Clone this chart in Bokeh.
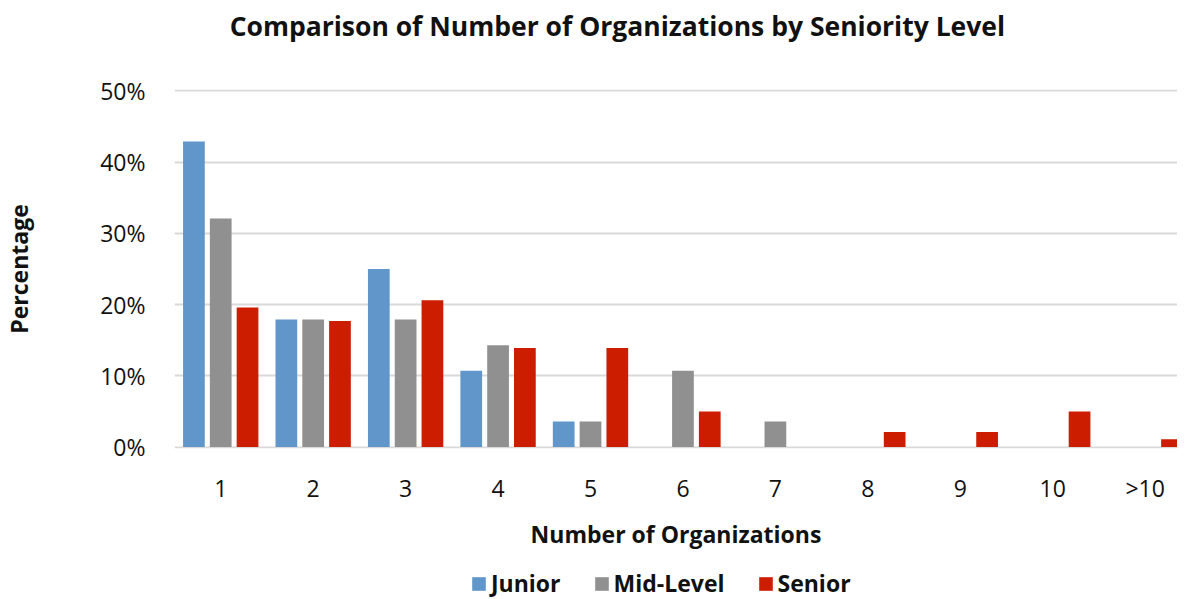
from bokeh.plotting import figure
from bokeh.layouts import column
from bokeh.models import (Range1d, FixedTicker, Legend, LegendItem, Label,
                          ColumnDataSource, PrintfTickFormatter)
from bokeh.transform import dodge
from bokeh.embed import file_html
from bokeh.resources import INLINE

# ---- data (percent) ----
categories = ["1", "2", "3", "4", "5", "6", "7", "8", "9", "10", ">10"]
junior = [42.9, 17.9, 25.0, 10.7, 3.6, 0, 0, 0, 0, 0, 0]
mid_level = [32.1, 17.9, 17.9, 14.3, 3.6, 10.7, 3.6, 0, 0, 0, 0]
senior = [19.6, 17.7, 20.6, 13.9, 13.9, 5.0, 0, 2.1, 2.1, 5.0, 1.1]
y_ticks = [0, 10, 20, 30, 40, 50]
series_names = ["Junior", "Mid-Level", "Senior"]
title_text = "Comparison of Number of Organizations by Seniority Level"

FONT = "Open Sans"
TXT = "#111111"
colors = ["#6096C9", "#909090", "#CD1D00"]

W = 1177
HT, HM, HL = 50, 510, 39
LEFT, TOP, BOTTOM = 168, 39, 112
x_end = -0.5 + (W - LEFT) / 93.0

# ---------- title strip ----------
pt = figure(width=W, height=HT, output_backend="svg", toolbar_location=None,
            title=None,
            x_range=Range1d(LEFT, W), y_range=Range1d(0, HT),
            x_axis_location=None, y_axis_location=None,
            min_border_left=0, min_border_right=0, min_border_top=0,
            min_border_bottom=0)
pt.outline_line_color = None
pt.grid.visible = False
pt.add_layout(Label(x=613.5, y=25, text=title_text, text_font=FONT,
                    text_font_size="26.5px", text_font_style="bold",
                    text_color=TXT, text_align="center",
                    text_baseline="alphabetic"))

# ---------- main chart ----------
src = ColumnDataSource(dict(x=list(range(len(categories))),
                            junior=junior, mid=mid_level, senior=senior))

p = figure(width=W, height=HM, output_backend="svg", toolbar_location=None,
           title=None,
           x_range=Range1d(-0.5, x_end), y_range=Range1d(-0.2, 50.2),
           min_border_left=LEFT, min_border_top=TOP,
           min_border_bottom=BOTTOM, min_border_right=0)
p.outline_line_color = None

bw = 0.235
fields = ["junior", "mid", "senior"]
offsets = [-0.29, 0.0, 0.29]
for f, off, c in zip(fields, offsets, colors):
    p.vbar(x=dodge("x", off), top=f, width=bw, source=src,
           fill_color=c, line_color=None)

xa = p.xaxis[0]
xa.ticker = FixedTicker(ticks=list(range(len(categories))))
xa.major_label_overrides = {i: c for i, c in enumerate(categories)}
xa.axis_line_color = None
xa.major_tick_line_color = None
xa.minor_tick_line_color = None
xa.major_label_text_font = FONT
xa.major_label_text_font_size = "23px"
xa.major_label_text_color = TXT
xa.major_label_standoff = 17
xa.axis_label = "Number of Organizations"
xa.axis_label_text_font = FONT
xa.axis_label_text_font_size = "23px"
xa.axis_label_text_font_style = "bold"
xa.axis_label_text_color = TXT
xa.axis_label_standoff = 11

ya = p.yaxis[0]
ya.ticker = FixedTicker(ticks=y_ticks)
ya.formatter = PrintfTickFormatter(format="%d%%")
ya.axis_line_color = None
ya.major_tick_line_color = None
ya.minor_tick_line_color = None
ya.major_label_text_font = FONT
ya.major_label_text_font_size = "23px"
ya.major_label_text_color = TXT
ya.major_label_standoff = 23
ya.axis_label = "Percentage"
ya.axis_label_text_font = FONT
ya.axis_label_text_font_size = "23px"
ya.axis_label_text_font_style = "bold"
ya.axis_label_text_color = TXT
ya.axis_label_standoff = 62

p.xgrid.grid_line_color = None
p.ygrid.ticker = FixedTicker(ticks=y_ticks)
p.ygrid.grid_line_color = "#D9D9D9"
p.ygrid.grid_line_width = 2

# ---------- legend strip ----------
# legend renderers use the same data, but sit outside this strip's visible range
pl = figure(width=W, height=HL, output_backend="svg", toolbar_location=None,
            title=None,
            x_range=Range1d(0, 1), y_range=Range1d(1000, 1001),
            x_axis_location=None, y_axis_location=None,
            min_border_left=0, min_border_right=0, min_border_top=0,
            min_border_bottom=0)
pl.outline_line_color = None
pl.grid.visible = False
lr = [pl.vbar(x="x", top=f, width=bw, source=src, fill_color=c,
              line_color=None)
      for f, c in zip(fields, colors)]
legend = Legend(items=[LegendItem(label=n, renderers=[r])
                       for n, r in zip(series_names, lr)],
                orientation="horizontal", location=(296, 0),
                glyph_width=17, glyph_height=17, label_standoff=4, spacing=32,
                padding=0, margin=0,
                label_text_font=FONT, label_text_font_size="23px",
                label_text_font_style="bold", label_text_color=TXT,
                border_line_color=None, background_fill_alpha=0)
pl.add_layout(legend)

layout = column(pt, p, pl, spacing=0)
open("out.html", "w").write(file_html(layout, INLINE))
